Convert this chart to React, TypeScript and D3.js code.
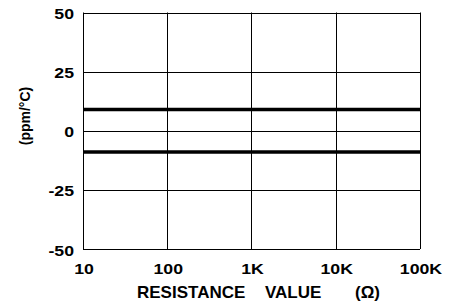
import React from "react";
import * as d3 from "d3";

const xTicks = [10, 100, 1000, 10000, 100000];
const xTickLabels = ["10", "100", "1K", "10K", "100K"];
const yTicks = [50, 25, 0, -25, -50];
const yTickLabels = ["50", "25", "0", "-25", "-50"];
const tcrLimits = [9, -9];
const xRange = [10, 100000];
const xTitleParts = ["RESISTANCE", "VALUE", "(\u03A9)"];
const xTitleStarts = [137, 265, 355];

const W = 450, H = 307;
const M = { left: 83, top: 12.5, right: 30, bottom: 58 };

export default function App() {
  const x = d3.scaleLog().domain(xRange).range([M.left, W - M.right]);
  const y = d3.scaleLinear().domain([-50, 50]).range([H - M.bottom, M.top]);
  const font = "'Liberation Sans', Arial, sans-serif";
  const sx = 1.18;
  return (
    <svg width={W} height={H} style={{ position: "absolute", left: 0, top: 0 }} fontFamily={font} fontWeight="bold">
      <rect x={0} y={0} width={W} height={H} fill="#fff" />
      {yTicks.map((t) => (
        <line key={"gy" + t} x1={x(xRange[0])} x2={x(xRange[1])} y1={Math.round(y(t)) + 0.5} y2={Math.round(y(t)) + 0.5} stroke="#000" strokeWidth={1} />
      ))}
      {xTicks.map((t) => (
        <line key={"gx" + t} x1={Math.round(x(t)) + 0.5} x2={Math.round(x(t)) + 0.5} y1={y(50)} y2={y(-50)} stroke="#000" strokeWidth={1} />
      ))}
      {tcrLimits.map((v) => (
        <line key={"l" + v} x1={x(xRange[0])} x2={x(xRange[1])} y1={y(v)} y2={y(v)} stroke="#000" strokeWidth={3.5} />
      ))}
      {yTicks.map((t, i) => (
        <text key={"ty" + t} transform={`translate(74,${y(t) + 6.5}) scale(${sx},1)`} textAnchor="end" fontSize={15}>
          {yTickLabels[i]}
        </text>
      ))}
      {xTicks.map((t, i) => (
        <text key={"tx" + t} transform={`translate(${x(t) + 1},274) scale(${sx},1)`} textAnchor="middle" fontSize={15}>
          {xTickLabels[i]}
        </text>
      ))}
      {xTitleParts.map((p, i) => (
        <text key={"xt" + i} x={xTitleStarts[i]} y={297.5} fontSize={17}>
          {p}
        </text>
      ))}
      <text transform={`translate(30,116) rotate(-90)`} textAnchor="middle" fontSize={14}>
        (ppm/°C)
      </text>
    </svg>
  );
}
